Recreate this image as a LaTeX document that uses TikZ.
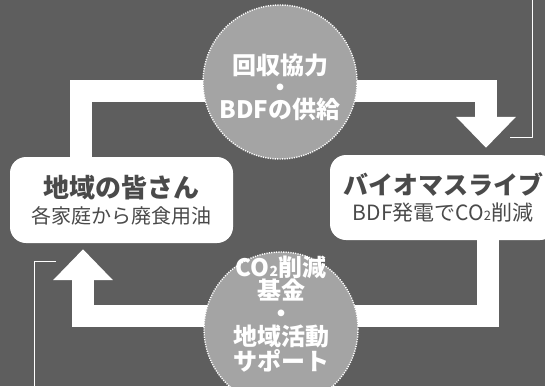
\documentclass[tikz,border=0pt]{standalone}
\usepackage{fontspec}
\setmainfont{Noto Sans CJK JP}
\usetikzlibrary{arrows.meta}
\definecolor{screen}{HTML}{5E5E5E}
\definecolor{disc}{HTML}{A4A4A4}
\definecolor{ink}{HTML}{4A4A4A}
\newcommand\subtwo[1]{{\fontsize{#1}{#1}\selectfont 2}}

\begin{document}
\begin{tikzpicture}[x=1pt,y=-1pt, line join=round,
	box/.style={fill=white, rounded corners=16pt, inner sep=0pt, text=ink, align=center},
	flow/.style={white, line width=22pt, line join=miter, -{Triangle[width=58pt,length=31pt]}},
	ring/.style={circle, fill=disc, draw=white, line width=1.4pt, dash pattern=on 1.2pt off 1.2pt, minimum size=154pt, inner sep=0pt},
	ringtext/.style={text=white, font=\bfseries\fontsize{24}{22}\selectfont, align=center},
	frame/.style={white, line width=1pt}]
 	\def\xmax{545} \def\ymax{386}
 	\useasboundingbox (0,0) rectangle (\xmax,\ymax);
 	\fill[screen] (0,0) rectangle (\xmax,\ymax);
 	\clip (0,0) rectangle (\xmax,\ymax);
 	% the two partners
 	\node[box, minimum width=223pt, minimum height=86pt] (comm) at (121.5,200)
 	  {{\fontsize{26}{30}\selectfont\bfseries 地域の皆さん}\\[5pt]{\fontsize{20}{24}\selectfont 各家庭から廃食用油}};
 	\node[box, minimum width=226pt, minimum height=85pt] (bio) at (443,197.5)
 	  {{\fontsize{25}{30}\selectfont\bfseries バイオマスライブ}\\[6pt]{\fontsize{21}{24}\selectfont BDF発電でCO\subtwo{13}削減}};
 	% bends of the loop
 	\coordinate (tl) at (81,91);  \coordinate (tr) at (486,91);
 	\coordinate (br) at (488,316); \coordinate (bl) at (83,316);
 	\draw[flow, shorten >=7pt] (comm.north -| tl) -- (tl) -- (tr) -- (bio.north -| tr);
 	\draw[flow, shorten >=6pt] (bio.south -| br) -- (br) -- (bl) -- (comm.south -| bl);
 	% what goes round
 	\node[ring] (supply) at (280,82) {};
 	\node[ringtext] at (280,87) {回収協力\\・\\BDFの供給};
 	\node[ring] (fund) at (281,329) {};
 	\node[ringtext, font=\bfseries\fontsize{24}{23}\selectfont] at (281,314) {CO\subtwo{14}削減\\基金\\・\\地域活動\\サポート};
 	% corner marks
 	\draw[frame] (532,0) -- (532,137) -- (510,137);
 	\draw[frame] (56,261) -- (34,261) -- (34,\ymax);
\end{tikzpicture}
\end{document}
